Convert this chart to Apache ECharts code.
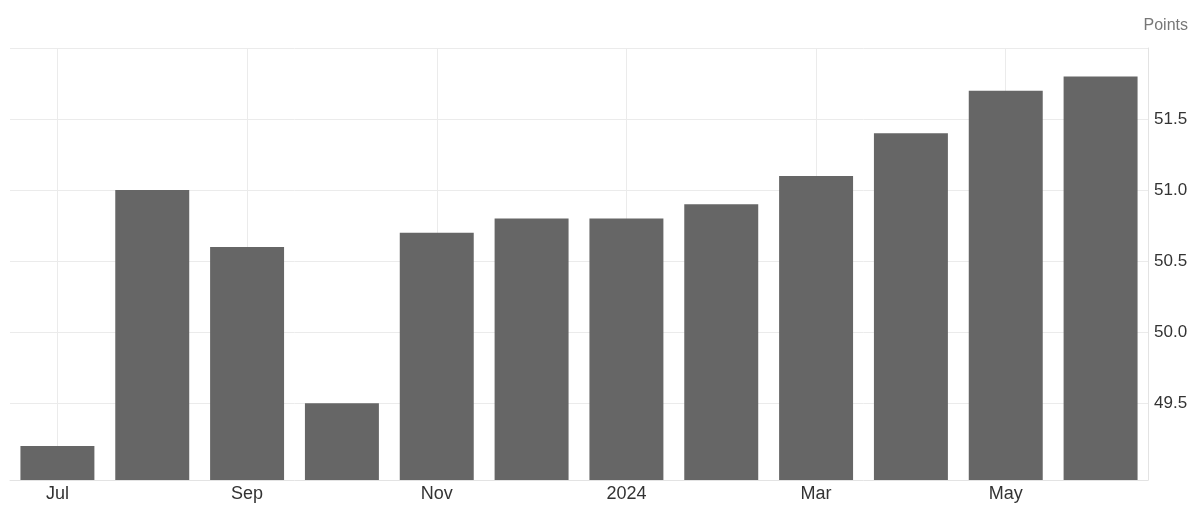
<!DOCTYPE html>
<html><head><meta charset="utf-8">
<script src="https://cdn.jsdelivr.net/npm/echarts@6/dist/echarts.min.js"></script>
<style>html,body{margin:0;padding:0;background:#fff}#c{width:1198px;height:505px}</style>
</head><body><div id="c"></div>
<script>
const categories = ['Jul','Aug','Sep','Oct','Nov','Dec','2024','Feb','Mar','Apr','May','Jun'];
const shownLabels = ['Jul','Sep','Nov','2024','Mar','May'];
const values = [49.2, 51.0, 50.6, 49.5, 50.7, 50.8, 50.8, 50.9, 51.1, 51.4, 51.7, 51.8];
const yTickLabels = ['49.5','50.0','50.5','51.0','51.5'];
const unitLabel = 'Points';

const grid = '#ebebeb';
const chart = echarts.init(document.getElementById('c'));
chart.setOption({
  animation: false,
  backgroundColor: '#fff',
  grid: {left: 10, right: 50, top: 48, bottom: 25, containLabel: false},
  title: {text: unitLabel, right: 5, top: 13, textStyle: {fontFamily: 'Liberation Sans, Arial', fontSize: 16, fontWeight: 'normal', color: '#777'}},
  xAxis: {
    type: 'category', data: categories, boundaryGap: true,
    axisLine: {show: true, lineStyle: {color: '#e3e3e3'}},
    axisTick: {show: false},
    axisLabel: {interval: 0, margin: 5, fontFamily: 'Liberation Sans, Arial', fontSize: 18, color: '#333',
      formatter: v => shownLabels.includes(v) ? v : ''},
    splitLine: {show: true, interval: 1, alignWithLabel: true,
      lineStyle: {color: [grid, grid, grid, grid, grid, grid, 'rgba(0,0,0,0)', 'rgba(0,0,0,0)'], width: 1}}
  },
  yAxis: {
    type: 'value', position: 'right', min: 48.96, max: 52.0, scale: true,
    axisLine: {show: true, lineStyle: {color: '#e3e3e3'}},
    axisTick: {show: false},
    axisLabel: {margin: 6, fontFamily: 'Liberation Sans, Arial', fontSize: 17, color: '#333',
      formatter: v => { const s = v.toFixed(1); return (yTickLabels.includes(s) && Math.abs(v - parseFloat(s)) < 1e-6) ? s : ''; }},
    splitLine: {show: true, lineStyle: {color: ['rgba(0,0,0,0)', 'rgba(0,0,0,0)', grid, grid, grid, grid, grid, grid], width: 1}}
  },
  series: [{
    type: 'bar', data: values, barCategoryGap: '22%',
    itemStyle: {color: '#666666'}
  }]
});
</script></body></html>
